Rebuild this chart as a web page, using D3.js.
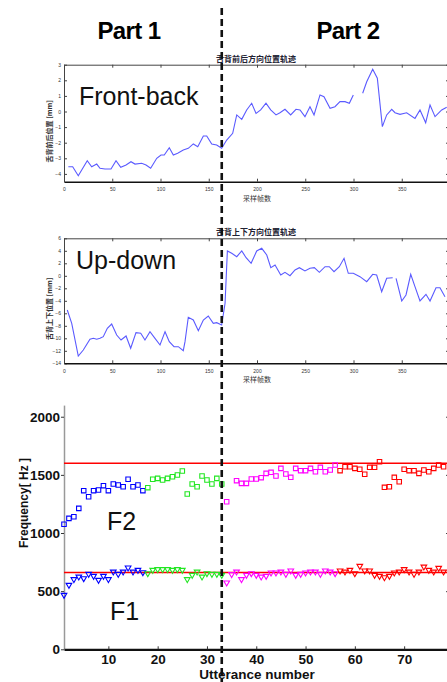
<!DOCTYPE html>
<html><head><meta charset="utf-8">
<script src="https://cdn.jsdelivr.net/npm/d3@7"></script>
<style>body{margin:0;background:#fff}svg{display:block}</style>
</head><body>
<script>
// ---------------- DATA ----------------
// Top panel (Front-back): frame index vs position [mm]; null = gap
const frontBackFrame = [4.5,9,14.8,24.1,28.7,33.9,37.3,42.5,48.7,53.9,58.8,64.3,69.4,73.6,80.5,85,89.8,96.1,100.5,103.9,109.1,113.3,117.8,123.6,128.8,134,138.6,144.4,147.9,153.1,158.2,163.4,168.6,174.8,179,184.2,189.3,194.5,199,203.8,209.3,214.2,219.7,223.8,229,234.9,240.4,244.6,249.7,254.9,259.1,265.3,269.4,275.7,280.8,286,291.2,295.7,299.8,304,309.5,313.7,319.9,324.7,329.9,334.4,339.6,343,348.2,355.1,363.7,368.9,374.8,379.3,384.5,391.4,396.6];
const frontBackMm = [-3.54,-3.54,-4.12,-3.15,-3.54,-3.37,-3.64,-3.69,-3.69,-3.15,-3.58,-3.43,-3.22,-3.37,-3.32,-3.43,-3.64,-3.0,-2.79,-2.79,-2.32,-2.79,-2.68,-2.47,-2.36,-2.08,-2.26,-1.57,-1.57,-2.08,-2.15,-2.36,-1.83,-1.40,-0.22,-0.50,0.10,0.53,-0.12,0.10,0.53,0.10,-0.22,-0.08,0.14,-0.22,0.14,0.10,-0.33,0.31,-0.22,1.06,0.95,0.21,0.31,0.63,0.63,0.53,1.06,null,1.17,1.91,2.71,2.13,-0.97,-0.22,0.14,-0.08,-0.18,-0.08,-0.44,0.10,-0.72,0.42,-0.33,0.10,0.27];
// Middle panel (Up-down)
const upDownFrame = [3.4,8,14.8,20,26.9,30.4,33.9,37.3,40.7,44.9,49.4,54.6,59.1,64.3,69.1,74.6,79.5,83.9,89.1,94.3,99.5,104.7,109.1,114,118.5,123.6,125.4,128.8,134,139.2,144.4,149.5,154.7,158.2,163.4,166.9,169.3,173.8,179,184.2,188.7,193.9,199.7,204.9,210.1,214.3,218.7,224.6,229,234.2,239.4,243.9,249.7,254.9,259.4,264.6,270.5,274.9,279.8,285.3,290.2,294.6,299.8,306.7,313.7,319.9,324,329.2,334.4,340.6,342.3,344.1,350,354.4,359.3,363.7,368.9,375.1,379.3,385.5,389.6,394.8];
const upDownMm = [-5.47,-7.6,-12.83,-11.87,-10.16,-10.0,-10.16,-10.0,-9.74,-8.4,-7.71,-9.47,-10.27,-9.63,-11.6,-9.1,-9.2,-10.27,-8.94,-10.0,-11.07,-8.94,-10.54,-11.34,-11.34,-11.98,-10.54,-6.64,-7.07,-8.78,-7.07,-6.43,-7.6,-7.5,-7.87,-4.4,3.97,3.6,3.06,3.97,2.9,2.0,3.97,4.4,3.33,1.3,1.73,0.13,0.56,0.02,0.93,1.3,0.77,1.2,1.3,0.56,1.46,1.46,0.66,1.46,2.8,0.4,0.4,-0.14,-0.94,0.24,0.13,-2.54,-0.4,-0.3,null,-0.4,-4.03,-3.07,0.24,-1.74,-4.03,-2.96,-4.03,-1.9,-1.9,-3.34];
const fbTicks = [-4,-3,-2,-1,0,1,2,3];
const udTicks = [-14,-12,-10,-8,-6,-4,-2,0,2,4,6];
const frameTicks = [0,50,100,150,200,250,300,350,400];
const frameTickLabels = ["0","50","100","150","200","250","300","350",""];

// Bottom panel: formants per utterance
const utterance = d3.range(1, 79);
const f2Hz = [1075,1126,1140,1212,1364,1312,1364,1370,1407,1364,1421,1413,1398,1462,1398,1413,1364,
  1390,1462,1470,1456,1470,1484,1499,1533,1335,1421,1398,1490,1456,1421,1470,1421,
  1269,null,1450,1427,1427,1464,1464,1476,1513,1522,1490,1556,1507,1479,1556,1536,1536,1556,1527,1565,1527,1542,1585,
  1536,1570,1570,1556,1548,1505,1565,1565,1613,1393,1398,1479,1441,1548,1536,1536,1513,1542,1527,1556,1585,1570];
const f1Hz = [467,553,602,624,610,647,630,596,630,602,667,647,667,702,667,682,662,
  653,682,688,688,688,682,688,682,602,639,667,624,653,647,647,639,
  573,645,667,602,639,653,639,624,630,659,659,667,647,676,639,647,659,667,667,647,676,667,653,
  676,667,682,653,716,676,676,639,630,618,630,659,667,688,667,647,667,710,682,667,699,667];
const groupStart = [1, 18, 34, 57];
const groupColor = ["#0000ff", "#22e622", "#ff00ff", "#ff0000"];
const f2Target = 1600, f1Target = 660;
const freqTicks = [0, 500, 1000, 1500, 2000];
const uttTicks = [10, 20, 30, 40, 50, 60, 70];
const partBoundary = 33;

// ---------------- DRAW ----------------
const W = 447, H = 682;
const svg = d3.select("body").append("svg").attr("width", W).attr("height", H);

const xTop = d3.scaleLinear([0, 400], [64, 450]);
const yFB = d3.scaleLinear([-4.5, 3], [181.7, 64.7]);
const yUD = d3.scaleLinear([-14, 6], [363.3, 238.3]);
const xU = d3.scaleLinear([1, 79.3], [64, 450]);
const yF = d3.scaleLinear([0, 2100], [649.3, 405.1]);

function tinyStyle(g) {
  g.selectAll(".domain").attr("stroke", "#444").attr("stroke-width", 1);
  g.selectAll(".tick line").attr("stroke", "#444");
  g.selectAll("text").attr("font-size", 5).attr("fill", "#333").attr("font-family", "Liberation Sans, Arial");
}

function topPanel(yScale, ticks, frames, vals, title, xlabel, ylabel) {
  const [y0, y1] = yScale.range(); // bottom, top
  const g = svg.append("g");
  g.append("g").attr("transform", `translate(64,0)`)
    .call(d3.axisLeft(yScale).tickValues(ticks).tickSize(-3).tickSizeOuter(0).tickPadding(3)).call(tinyStyle);
  g.append("g").attr("transform", `translate(450,0)`)
    .call(d3.axisRight(yScale).tickValues(ticks).tickSize(-4).tickSizeOuter(0).tickFormat("")).call(tinyStyle);
  g.append("g").attr("transform", `translate(0,${y1})`)
    .call(d3.axisTop(xTop).tickValues(frameTicks).tickSize(-3).tickSizeOuter(0).tickFormat("")).call(tinyStyle);
  g.append("g").attr("transform", `translate(0,${y0})`)
    .call(d3.axisBottom(xTop).tickValues(frameTicks).tickSize(-3).tickSizeOuter(0).tickPadding(6)
      .tickFormat((d, i) => frameTickLabels[i])).call(tinyStyle)
    .select(".domain").attr("stroke", "#111").attr("stroke-width", 1.6);
  const pts = frames.map((f, i) => [f, vals[i]]);
  g.append("path").datum(pts)
    .attr("d", d3.line().defined(d => d[1] !== null).x(d => xTop(d[0])).y(d => yScale(d[1])))
    .attr("fill", "none").attr("stroke", "#5a5aff").attr("stroke-width", 1.1);
  g.append("text").attr("x", 256).attr("y", y1 - 3).attr("text-anchor", "middle")
    .attr("font-size", 8).attr("font-weight", "bold").attr("fill", "#223").attr("font-family", "Noto Sans CJK SC")
    .text(title);
  g.append("text").attr("x", 257).attr("y", y0 + 19).attr("text-anchor", "middle")
    .attr("font-size", 7).attr("fill", "#333").attr("font-family", "Noto Sans CJK SC").text(xlabel);
  g.append("text").attr("transform", `translate(52,${(y0 + y1) / 2 + 8}) rotate(-90)`).attr("text-anchor", "middle")
    .attr("font-size", 7).attr("font-weight", "bold").attr("fill", "#333").attr("font-family", "Noto Sans CJK SC").text(ylabel);
}

topPanel(yFB, fbTicks, frontBackFrame, frontBackMm, "舌背前后方向位置轨迹", "采样帧数", "舌背前后位置 [mm]");
topPanel(yUD, udTicks, upDownFrame, upDownMm, "舌背上下方向位置轨迹", "采样帧数", "舌背上下位置 [mm]");

svg.append("text").attr("x", 79).attr("y", 105).attr("font-size", 25).attr("font-family", "Liberation Sans, Arial").attr("fill", "#111").text("Front-back");
svg.append("text").attr("x", 76).attr("y", 269).attr("font-size", 25).attr("font-family", "Liberation Sans, Arial").attr("fill", "#111").text("Up-down");

// Bottom panel
const gb = svg.append("g");
const yAx = gb.append("g").attr("transform", "translate(64,0)")
  .call(d3.axisLeft(yF).tickValues(freqTicks).tickSize(3).tickSizeOuter(0).tickPadding(1).tickFormat(d3.format("d")));
yAx.select(".domain").attr("stroke", "#999").attr("stroke-width", 1.5);
yAx.selectAll(".tick line").attr("stroke", "#333");
yAx.selectAll("text").attr("font-size", 13.5).attr("font-weight", "bold").attr("fill", "#111").attr("font-family", "Liberation Sans, Arial");
gb.append("g").attr("transform", "translate(450,0)")
  .call(d3.axisRight(yF).tickValues(freqTicks).tickSize(-4).tickSizeOuter(0).tickFormat(""))
  .call(g => { g.select(".domain").attr("stroke", "#444"); g.selectAll("line").attr("stroke", "#444"); });

[f2Target, f1Target].forEach(v => {
  gb.append("line").attr("x1", 64).attr("x2", 450).attr("y1", yF(v)).attr("y2", yF(v))
    .attr("stroke", "#ff0000").attr("stroke-width", 1.5);
});

const colorOf = u => groupColor[d3.bisectRight(groupStart, u) - 1];
const sq = d3.symbol(d3.symbolSquare, 20)();
const tri = d3.symbol(d3.symbolTriangle, 14)();
gb.append("g").selectAll("path").data(utterance.filter((u, i) => f2Hz[i] !== null))
  .join("path").attr("d", sq)
  .attr("transform", u => `translate(${xU(u)},${yF(f2Hz[u - 1])})`)
  .attr("fill", "none").attr("stroke", colorOf).attr("stroke-width", 1.1);
gb.append("g").selectAll("path").data(utterance)
  .join("path").attr("d", tri)
  .attr("transform", u => `translate(${xU(u)},${yF(f1Hz[u - 1])}) rotate(180)`)
  .attr("fill", "none").attr("stroke", colorOf).attr("stroke-width", 1.1);

const xAx = gb.append("g").attr("transform", `translate(0,${yF(0)})`)
  .call(d3.axisBottom(xU).tickValues(uttTicks).tickSize(-3).tickSizeOuter(0).tickPadding(5));
xAx.select(".domain").attr("stroke", "#111").attr("stroke-width", 2.2);
xAx.selectAll(".tick line").attr("stroke", "#333");
xAx.selectAll("text").attr("font-size", 13.5).attr("font-weight", "bold").attr("fill", "#111").attr("font-family", "Liberation Sans, Arial");

gb.append("text").attr("x", 257).attr("y", 679).attr("text-anchor", "middle").attr("font-size", 13.5)
  .attr("font-weight", "bold").attr("fill", "#111").attr("font-family", "Liberation Sans, Arial").text("Utterance number");
gb.append("text").attr("transform", "translate(28,503) rotate(-90)").attr("text-anchor", "middle").attr("font-size", 12)
  .attr("font-weight", "bold").attr("fill", "#111").attr("font-family", "Liberation Sans, Arial").text("Frequency[ Hz ]");
gb.append("text").attr("x", 107).attr("y", 530).attr("font-size", 25).attr("fill", "#111").attr("font-family", "Liberation Sans, Arial").text("F2");
gb.append("text").attr("x", 110).attr("y", 620).attr("font-size", 25).attr("fill", "#111").attr("font-family", "Liberation Sans, Arial").text("F1");

// Part headers
svg.append("text").attr("x", 129).attr("y", 39).attr("text-anchor", "middle").attr("font-size", 24)
  .attr("font-weight", "bold").attr("letter-spacing", -0.6).attr("fill", "#000").attr("font-family", "Liberation Sans, Arial").text("Part 1");
svg.append("text").attr("x", 348).attr("y", 39).attr("text-anchor", "middle").attr("font-size", 24)
  .attr("font-weight", "bold").attr("letter-spacing", -0.6).attr("fill", "#000").attr("font-family", "Liberation Sans, Arial").text("Part 2");

// Dashed boundary
svg.append("line").attr("x1", xU(partBoundary)).attr("x2", xU(partBoundary)).attr("y1", 8).attr("y2", H)
  .attr("stroke", "#111").attr("stroke-width", 2.6).attr("stroke-dasharray", "7,4");
</script>
</body></html>
